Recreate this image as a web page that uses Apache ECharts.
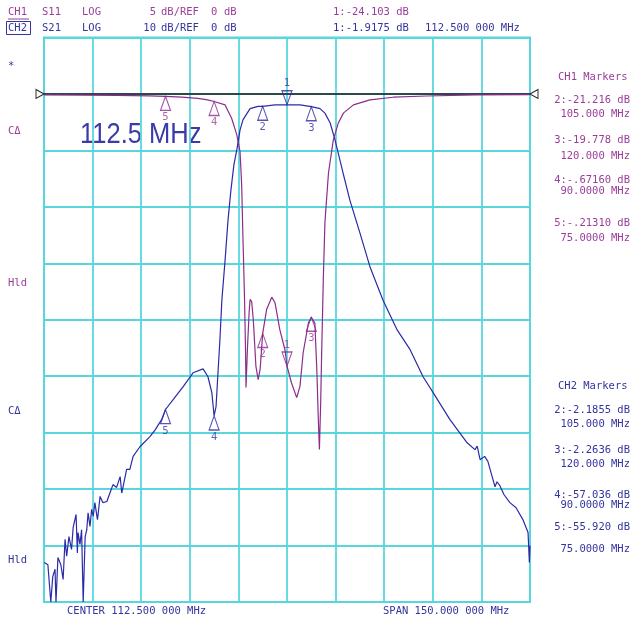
<!DOCTYPE html>
<html><head><meta charset="utf-8">
<script src="https://cdn.jsdelivr.net/npm/echarts@6/dist/echarts.min.js"></script>
<style>html,body{margin:0;padding:0;background:#fff;}#c{width:631px;height:624px;}</style>
</head><body><div id="c"></div>
<script>
// ---- data (frequency in MHz, level in dB) ----
const s21Freq = [37.6,38.7,39.6,40.2,40.9,41.2,41.8,42.7,43.4,44.0,44.5,45.2,46.0,46.5,47.4,47.8,48.0,48.6,49.1,49.6,50.2,50.7,51.1,51.7,52.2,52.7,53.2,54.0,54.2,54.8,55.7,56.9,57.9,58.8,59.9,61.0,61.5,61.9,63.0,64.0,65.0,67.1,70.2,71.8,73.8,75.0,77.3,80.4,83.5,86.6,88.1,89.3,90.0,90.6,91.2,91.8,92.4,93.4,94.3,95.2,96.1,97.1,98.0,98.9,101.1,103.5,105.0,108.8,112.5,116.5,120.0,122.7,124.2,125.8,127.3,129.8,131.9,135.0,138.1,142.1,146.5,150.5,154.5,157.6,162.8,168.1,170.5,171.2,172.1,173.5,174.5,176.7,177.3,178.2,179.5,181.3,183.2,185.3,186.9,187.3,187.5];
const s21dB = [-83,-83.4,-90,-85.5,-84.2,-90,-82.1,-83.4,-86,-78.9,-81.9,-78.4,-80.7,-76.8,-74.5,-81.3,-77.7,-79.8,-77.2,-90,-78.4,-77.2,-74.2,-76.6,-73.6,-74.8,-72.4,-75.4,-74.5,-71.3,-72.4,-72.2,-70.6,-69.2,-69.7,-67.8,-70.7,-69.6,-66.5,-66.5,-64.2,-62.5,-60.7,-59.5,-57.7,-55.9,-54.2,-51.9,-49.4,-48.7,-50.1,-52.9,-57.0,-55.4,-49.4,-43.5,-36.5,-29.4,-22.3,-17.0,-12.6,-9.6,-6.4,-4.6,-2.6,-2.2,-2.19,-1.95,-1.92,-1.95,-2.26,-2.6,-3.4,-5.1,-8.1,-14.0,-18.8,-24.6,-30.6,-36.5,-41.8,-45.3,-50.1,-52.9,-57.7,-61.8,-63.0,-62.4,-64.8,-64.2,-65.1,-69.6,-68.7,-69.4,-71.0,-72.4,-73.3,-75.4,-77.7,-83.0,-80.0];
const s11Freq = [37.5,50,60,70,75,80,85,88,90,93.4,95.4,97,98,98.5,99.0,99.4,99.7,99.85,100.3,100.8,101.1,101.6,102.1,102.9,103.6,104.2,105,106.2,107.8,108.8,110.3,111.9,112.5,113.9,115.5,116.5,117.5,119.1,120,121.1,121.7,122.2,122.5,122.9,123.2,123.7,124.2,125.3,126.8,128.3,129.9,133,138.1,145.3,155.6,171,187.5];
const s11dB = [-0.08,-0.1,-0.12,-0.17,-0.21,-0.28,-0.4,-0.53,-0.67,-0.97,-2.15,-3.6,-5.1,-8.0,-13.8,-18.2,-22.7,-26.0,-22.5,-19.4,-18.2,-18.4,-20.0,-24.1,-25.3,-24.4,-21.2,-19.1,-18.0,-18.5,-20.9,-22.7,-24.1,-25.6,-26.9,-25.9,-22.9,-20.3,-19.78,-20.3,-24.4,-29.1,-31.5,-27.3,-22.9,-16.5,-11.4,-7.0,-4.07,-2.6,-1.7,-0.97,-0.53,-0.29,-0.18,-0.09,-0.06];
const markerNames = ['1','2','3','4','5'];
const markerFreq = [112.5,105,120,90,75];
const ch1MarkerDB = [-24.103,-21.216,-19.778,-0.6716,-0.2131];
const ch2MarkerDB = [-1.9175,-2.1855,-2.2636,-57.036,-55.92];
const ch1MarkerText = ['2:-21.216 dB','105.000 MHz','3:-19.778 dB','120.000 MHz','4:-.67160 dB','90.0000 MHz','5:-.21310 dB','75.0000 MHz'];
const ch2MarkerText = ['2:-2.1855 dB','105.000 MHz','3:-2.2636 dB','120.000 MHz','4:-57.036 dB','90.0000 MHz','5:-55.920 dB','75.0000 MHz'];
const startFreq = 37.5, stopFreq = 187.5;

// ---- styles ----
const PUR = '#8c2c8c', PURT = '#9a3e9a', BLU = '#2b2ba8', BLUT = '#34349e', CYAN = '#58d6de';
const MONO = '"DejaVu Sans Mono", "Liberation Mono", monospace';
const FS = 10.5;

const chart = echarts.init(document.getElementById('c'), null, {renderer:'canvas'});
const upTri = 'path://M5,0 L10,14 L0,14 Z';
const downTri = 'path://M0,0 L10,0 L5,14 Z';
function markerData(dbs, color){
  return markerFreq.map((f,i)=>{
    const down = i===0;
    return {value:[f, dbs[i]], name:markerNames[i],
      symbol: down?downTri:upTri, symbolSize:[10,14], symbolOffset:[0, down?-7:7],
      label:{show:true, formatter:markerNames[i], position: down?'top':'bottom', distance:1,
        color:color, fontFamily:MONO, fontSize:FS}};
  });
}
function txt(x,y,t,color,extra){
  return Object.assign({type:'text', x:x, y:y, silent:true,
    style:Object.assign({text:t, fill:color, font:FS+'px '+MONO, textVerticalAlign:'middle'}, extra||{})});
}
const g = [];
// header
g.push(txt(8,12,'CH1',PURT), txt(42,12,'S11',PURT), txt(82,12,'LOG',PURT),
  txt(156,12,'5',PURT,{textAlign:'right'}), txt(161,12,'dB/REF',PURT), txt(211,12,'0',PURT), txt(224,12,'dB',PURT),
  txt(333,12,'1:-24.103 dB',PURT));
g.push({type:'line', silent:true, shape:{x1:8,y1:19,x2:29,y2:19}, style:{stroke:PURT, lineWidth:1}});
g.push(txt(8,28,'CH2',BLUT), txt(42,28,'S21',BLUT), txt(82,28,'LOG',BLUT),
  txt(156,28,'10',BLUT,{textAlign:'right'}), txt(161,28,'dB/REF',BLUT), txt(211,28,'0',BLUT), txt(224,28,'dB',BLUT),
  txt(333,28,'1:-1.9175 dB',BLUT), txt(425,28,'112.500 000 MHz',BLUT));
g.push({type:'rect', silent:true, shape:{x:6.5,y:21.5,width:24,height:13}, style:{fill:'none', stroke:BLUT, lineWidth:1}});
// left labels
g.push(txt(8,66,'*',BLUT), txt(8,131,'CΔ',PURT), txt(8,283,'Hld',PURT), txt(8,411,'CΔ',BLUT), txt(8,560,'Hld',BLUT));
// big frequency label
g.push({type:'text', x:80, y:135, scaleX:0.88, silent:true,
  style:{text:'112.5 MHz', fill:'#3a3aa8', font:'29px "Liberation Sans", sans-serif', textVerticalAlign:'middle'}});
// right marker tables
const ch1Y = [100,114,140,156,180,191,223,238];
const ch2Y = [410,424,450,464,495,505,527,549];
g.push(txt(558,77,'CH1 Markers',PURT));
ch1MarkerText.forEach((t,i)=>g.push(txt(630,ch1Y[i],t,PURT,{textAlign:'right'})));
g.push(txt(558,386,'CH2 Markers',BLUT));
ch2MarkerText.forEach((t,i)=>g.push(txt(630,ch2Y[i],t,BLUT,{textAlign:'right'})));
// bottom
g.push(txt(67,611,'CENTER 112.500 000 MHz',BLUT), txt(383,611,'SPAN 150.000 000 MHz',BLUT));

const option = {
  backgroundColor:'#fff',
  animation:false,
  grid:{left:44, right:101, top:37.5, bottom:22, show:true, borderColor:CYAN, borderWidth:2, backgroundColor:'transparent'},
  xAxis:[
    {type:'value', min:startFreq, max:stopFreq, show:false},
    {type:'value', min:0, max:150, interval:15, position:'bottom',
      axisLine:{show:false}, axisTick:{show:false}, axisLabel:{show:false},
      splitLine:{show:true, lineStyle:{color:CYAN, width:1.8}}}
  ],
  yAxis:[
    {type:'value', min:-45, max:5, interval:5, show:false},
    {type:'value', min:-90, max:10, interval:10, position:'left',
      axisLine:{show:false}, axisTick:{show:false}, axisLabel:{show:false},
      splitLine:{show:true, lineStyle:{color:CYAN, width:1.8}}}
  ],
  graphic:g,
  series:[
    {type:'line', name:'ref', xAxisIndex:0, yAxisIndex:1, clip:false, z:3,
      data:[{value:[startFreq,0], symbol:'path://M0,0 L10,5 L0,10 Z', symbolOffset:[-4,0]},
            {value:[stopFreq,0], symbol:'path://M10,0 L0,5 L10,10 Z', symbolOffset:[4,0]}],
      showSymbol:true, symbolSize:[8,9],
      itemStyle:{color:'#fff', borderColor:'#222', borderWidth:1},
      lineStyle:{color:'#1a1a1a', width:1.6}},
    {type:'line', name:'S21', xAxisIndex:0, yAxisIndex:1, showSymbol:false, z:4,
      data:s21Freq.map((f,i)=>[f,s21dB[i]]), lineStyle:{color:BLU, width:1.2}},
    {type:'line', name:'S11', xAxisIndex:0, yAxisIndex:0, showSymbol:false, z:4,
      data:s11Freq.map((f,i)=>[f,s11dB[i]]), lineStyle:{color:PUR, width:1.2}},
    {type:'scatter', name:'S21 markers', xAxisIndex:0, yAxisIndex:1, z:5, clip:false,
      itemStyle:{color:'rgba(255,255,255,0)', borderColor:BLU, borderWidth:1.2},
      data:markerData(ch2MarkerDB, BLUT)},
    {type:'scatter', name:'S11 markers', xAxisIndex:0, yAxisIndex:0, z:5, clip:false,
      itemStyle:{color:'rgba(255,255,255,0)', borderColor:PUR, borderWidth:1.2},
      data:markerData(ch1MarkerDB, PURT)}
  ]
};
chart.setOption(option);
</script></body></html>
